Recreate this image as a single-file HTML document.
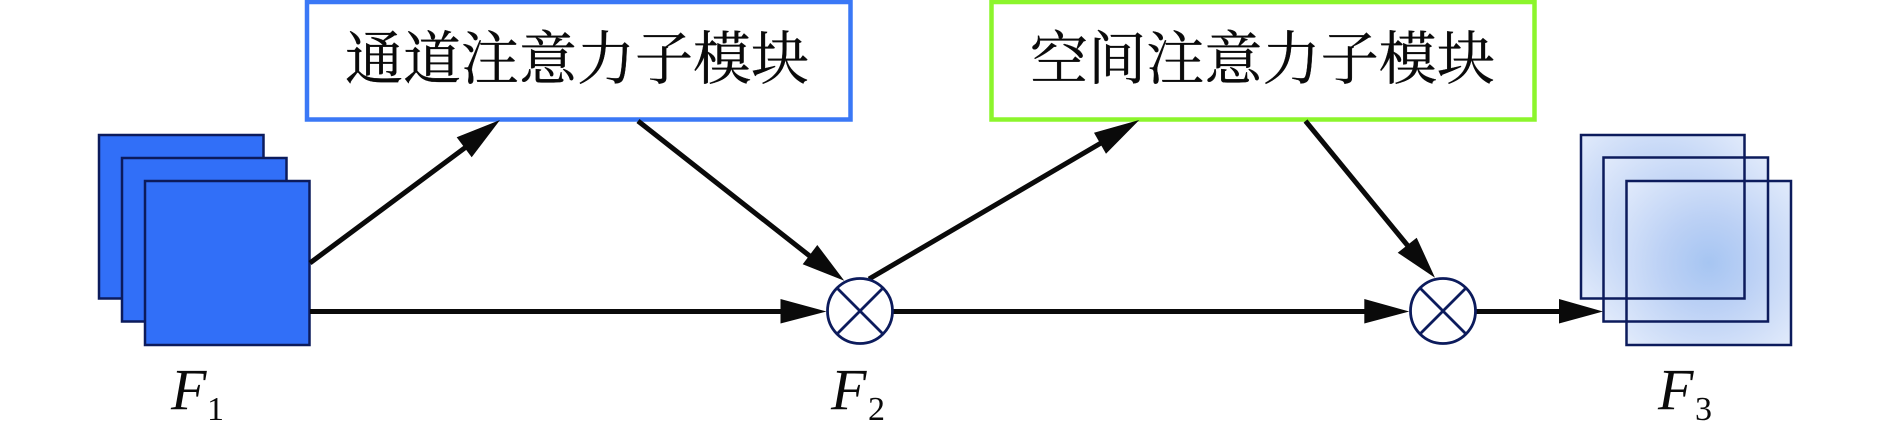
<!DOCTYPE html>
<html>
<head>
<meta charset="utf-8">
<style>
html,body{margin:0;padding:0;background:#fff;width:1890px;height:438px;overflow:hidden}
svg{display:block}
.cjk{font-family:"Liberation Serif","Noto Serif CJK SC",serif;font-size:58px;fill:#0a0a0a;stroke:#0a0a0a;stroke-width:0.35px}
.f{font-family:"Liberation Serif",serif;font-style:italic;font-size:58px;fill:#0a0a0a}
.s{font-family:"Liberation Serif",serif;font-size:34px;fill:#0a0a0a}
</style>
</head>
<body>
<svg width="1890" height="438" viewBox="0 0 1890 438" xmlns="http://www.w3.org/2000/svg">
<defs>
<radialGradient id="g" cx="0.5" cy="0.5" r="0.71">
<stop offset="0" stop-color="#a6c5f2"/>
<stop offset="0.4" stop-color="#bcd1f5"/>
<stop offset="1" stop-color="#e2ebfb"/>
</radialGradient>
</defs>

<!-- F1 stack -->
<g fill="#316ff8" stroke="#0c1b5c" stroke-width="2.5">
<rect x="99" y="135" width="164.5" height="163.5"/>
<rect x="122" y="158" width="164.5" height="163.5"/>
<rect x="145" y="181" width="164.5" height="164"/>
</g>

<!-- F3 stack -->
<rect x="1581" y="135" width="163.5" height="163.5" fill="url(#g)"/>
<rect x="1603.5" y="157.5" width="164.5" height="164" fill="url(#g)"/>
<rect x="1626.5" y="181" width="164.5" height="164" fill="url(#g)"/>
<g fill="none" stroke="#0c1b5c" stroke-width="2.5">
<rect x="1581" y="135" width="163.5" height="163.5"/>
<rect x="1603.5" y="157.5" width="164.5" height="164"/>
<rect x="1626.5" y="181" width="164.5" height="164"/>
</g>

<!-- Module boxes -->
<rect x="307" y="2" width="543.5" height="117.5" fill="#fff" stroke="#3a78f6" stroke-width="4.5"/>
<rect x="991.5" y="2" width="543" height="117.5" fill="#fff" stroke="#8cf52c" stroke-width="4.5"/>
<text class="cjk" x="345" y="79" textLength="464" lengthAdjust="spacingAndGlyphs">通道注意力子模块</text>
<text class="cjk" x="1030" y="79" textLength="465" lengthAdjust="spacingAndGlyphs">空间注意力子模块</text>

<!-- Connector lines -->
<g stroke="#0a0a0a" stroke-width="5" fill="none">
<line x1="310" y1="263" x2="466" y2="147"/>
<line x1="638" y1="121" x2="811" y2="257"/>
<line x1="310" y1="311.5" x2="785" y2="311.5"/>
<line x1="869" y1="279" x2="1101" y2="143"/>
<line x1="893" y1="311.5" x2="1370" y2="311.5"/>
<line x1="1305.5" y1="121" x2="1408" y2="246"/>
<line x1="1476" y1="311.5" x2="1565" y2="311.5"/>
</g>

<!-- Arrowheads -->
<g fill="#0a0a0a">
<polygon points="500,120 456.7,137.3 471.7,157.3"/>
<polygon points="844.3,280.7 817.3,245 802.7,264.3"/>
<polygon points="826.5,311.5 780.5,299 780.5,323.5"/>
<polygon points="1139.3,120 1094,132.7 1106,153.7"/>
<polygon points="1409.3,311.5 1364.3,299 1364.3,323.5"/>
<polygon points="1435,277.7 1416.7,237.7 1397.7,252.7"/>
<polygon points="1603,311.5 1559,299 1559,323.5"/>
</g>

<!-- Circles -->
<g fill="#fff" stroke="#0c1b5c" stroke-width="2.8">
<circle cx="860" cy="311" r="32.5"/>
<path d="M837 288L883 334M883 288L837 334" fill="none"/>
<circle cx="1443" cy="311" r="32.5"/>
<path d="M1420 288L1466 334M1466 288L1420 334" fill="none"/>
</g>

<!-- Labels -->
<text class="f" x="171" y="409">F</text>
<text class="s" x="207" y="420">1</text>
<text class="f" x="831" y="409">F</text>
<text class="s" x="868" y="420">2</text>
<text class="f" x="1658" y="409">F</text>
<text class="s" x="1695" y="420">3</text>
</svg>
</body>
</html>
